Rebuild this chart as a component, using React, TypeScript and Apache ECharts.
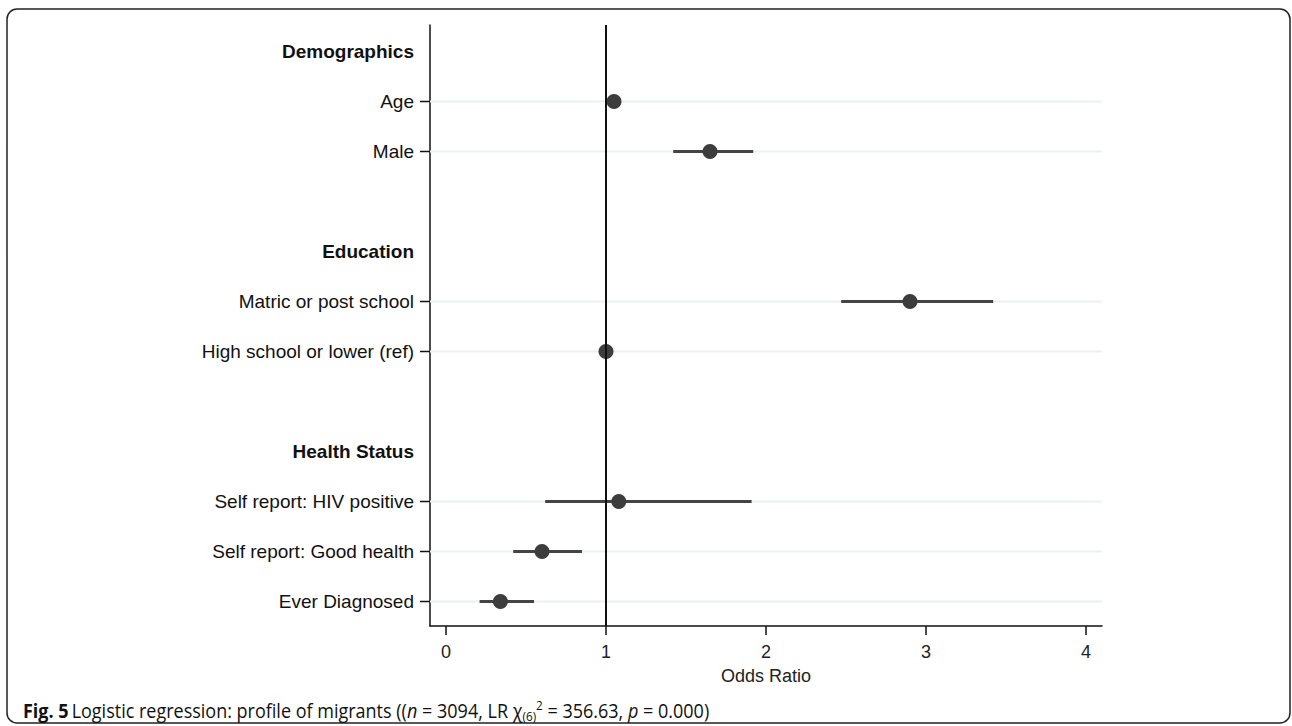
import React, { useEffect, useRef } from "react";
import * as echarts from "echarts";

const rowLabels = [
  "Demographics",
  "Age",
  "Male",
  "",
  "Education",
  "Matric or post school",
  "High school or lower (ref)",
  "",
  "Health Status",
  "Self report: HIV positive",
  "Self report: Good health",
  "Ever Diagnosed",
];
const headerRows = [0, 4, 8];
const estRows = [1, 2, 5, 6, 9, 10, 11];
const oddsRatios = [1.05, 1.65, 2.9, 1.0, 1.08, 0.6, 0.34];
const ciLow = [1.03, 1.42, 2.47, 1.0, 0.62, 0.42, 0.21];
const ciHigh = [1.07, 1.92, 3.42, 1.0, 1.91, 0.85, 0.55];
const xTicks = [0, 1, 2, 3, 4];
const refValue = 1;

export default function App() {
  const ref = useRef<HTMLDivElement>(null);
  useEffect(() => {
    document.body.style.margin = "0";
    if (!ref.current) return;
    const chart = echarts.init(ref.current, null, { renderer: "svg" });
    const labelFont = '"Liberation Sans", Arial, sans-serif';
    const capFont = '"Open Sans", sans-serif';
    const option: any = {
      animation: false,
      backgroundColor: "#ffffff",
      grid: { left: 430, right: 190, top: 25, bottom: 100, containLabel: false },
      xAxis: {
        type: "value",
        min: -0.1,
        max: 4.1,
        name: "Odds Ratio",
        nameLocation: "middle",
        nameGap: 41,
        nameTextStyle: { fontFamily: labelFont, fontSize: 18, color: "#222" },
        axisLine: { show: true, onZero: false, lineStyle: { color: "#111", width: 1.5 } },
        axisTick: { show: true, length: 9, customValues: xTicks, lineStyle: { color: "#111", width: 1.5 } },
        axisLabel: { customValues: xTicks, fontFamily: labelFont, fontSize: 18, color: "#222", margin: 17 },
        splitLine: { show: false },
      },
      yAxis: {
        type: "value",
        inverse: true,
        min: -0.53,
        max: 11.49,
        axisLine: { show: true, onZero: false, lineStyle: { color: "#111", width: 1.5 } },
        axisTick: { show: false },
        axisLabel: { show: false },
        splitLine: { show: false },
      },
      graphic: [
        {
          type: "rect",
          shape: { x: 7, y: 9, width: 1283, height: 714, r: 10 },
          style: { fill: "none", stroke: "#222", lineWidth: 1.5 },
          silent: true,
        },
        {
          type: "text",
          x: 23,
          y: 711,
          scaleX: 0.9,
          style: {
            verticalAlign: "middle",
            text:
              "{b|Fig. 5} {n|Logistic regression: profile of migrants ((}{i|n}{n| = 3094, LR χ}{sub|(6)}{sup|2}{n| = 356.63, }{i|p}{n| = 0.000)}",
            rich: {
              b: { fontFamily: capFont, fontWeight: "bold", fontSize: 20, fill: "#111", lineHeight: 24, verticalAlign: "middle" },
              n: { fontFamily: capFont, fontSize: 20, fill: "#111", lineHeight: 24, verticalAlign: "middle" },
              i: { fontFamily: capFont, fontStyle: "italic", fontSize: 20, fill: "#111", lineHeight: 24, verticalAlign: "middle" },
              sub: { fontFamily: capFont, fontSize: 13, fill: "#111", lineHeight: 24, verticalAlign: "bottom" },
              sup: { fontFamily: capFont, fontSize: 13, fill: "#111", lineHeight: 24, verticalAlign: "top" },
            },
          },
        },
      ],
      series: [
        {
          type: "custom",
          name: "rows",
          z: 1,
          data: rowLabels.map((_, i) => [0, i]),
          encode: { x: 0, y: 1 },
          renderItem: (params: any, api: any) => {
            const i = params.dataIndex;
            const y = api.coord([0, i])[1];
            const cs = params.coordSys;
            const label = rowLabels[i];
            const isHeader = headerRows.indexOf(i) >= 0;
            const children: any[] = [];
            if (label && !isHeader) {
              children.push({
                type: "line",
                shape: { x1: cs.x, y1: y, x2: cs.x + cs.width, y2: y },
                style: { stroke: "#e9f1f3", lineWidth: 2 },
              });
              children.push({
                type: "line",
                shape: { x1: cs.x - 10, y1: y, x2: cs.x, y2: y },
                style: { stroke: "#111", lineWidth: 1.5 },
              });
            }
            if (label) {
              children.push({
                type: "text",
                x: cs.x - 16,
                y: y,
                style: {
                  text: label,
                  align: "right",
                  verticalAlign: "middle",
                  fontFamily: labelFont,
                  fontSize: 19,
                  fontWeight: isHeader ? "bold" : "normal",
                  fill: "#111",
                },
              });
            }
            return { type: "group", children };
          },
          markLine: {
            silent: true,
            symbol: "none",
            label: { show: false },
            lineStyle: { color: "#111", width: 2, type: "solid" },
            data: [{ xAxis: refValue }],
          },
        },
        {
          type: "custom",
          name: "ci",
          z: 3,
          data: estRows.map((r, k) => [ciLow[k], ciHigh[k], r]),
          encode: { x: [0, 1], y: 2 },
          renderItem: (params: any, api: any) => {
            const p1 = api.coord([api.value(0), api.value(2)]);
            const p2 = api.coord([api.value(1), api.value(2)]);
            return {
              type: "line",
              shape: { x1: p1[0], y1: p1[1], x2: p2[0], y2: p2[1] },
              style: { stroke: "#444", lineWidth: 3 },
            };
          },
        },
        {
          type: "scatter",
          name: "or",
          z: 4,
          symbol: "circle",
          symbolSize: 15,
          itemStyle: { color: "#3d3d3d", opacity: 1 },
          data: estRows.map((r, k) => [oddsRatios[k], r]),
        },
      ],
    };
    chart.setOption(option);
    return () => chart.dispose();
  }, []);
  return <div ref={ref} style={{ width: 1292, height: 726 }} />;
}
